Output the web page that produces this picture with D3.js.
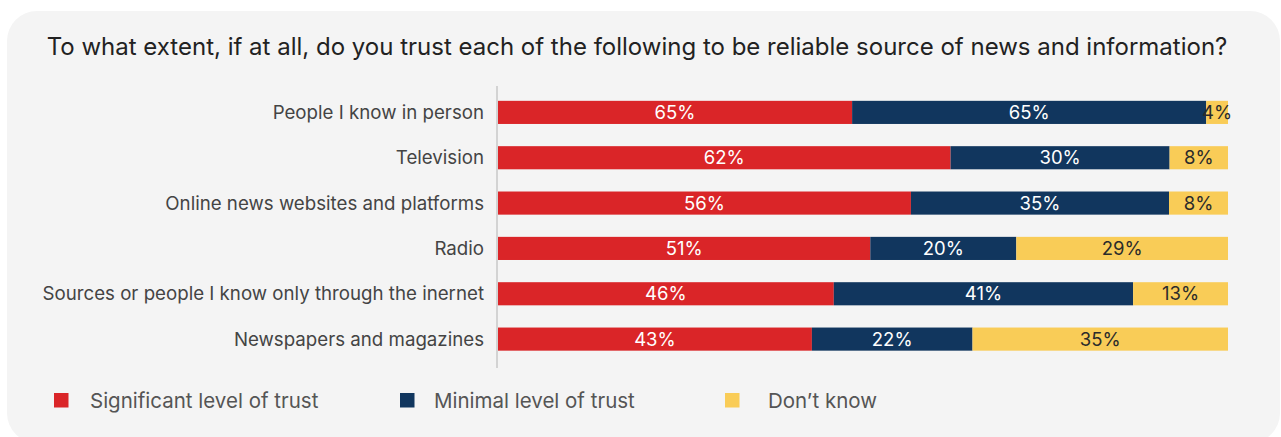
<!DOCTYPE html>
<html>
<head>
<meta charset="utf-8">
<script src="https://cdn.jsdelivr.net/npm/d3@7/dist/d3.min.js"></script>
<style>
  html, body { margin: 0; padding: 0; background: #ffffff; }
  svg { display: block; font-family: Inter, "Noto Sans", sans-serif; }
</style>
</head>
<body>
<svg id="chart" width="1281" height="437"></svg>
<script>
// Survey categories, top to bottom
const categories = [
  "People I know in person",
  "Television",
  "Online news websites and platforms",
  "Radio",
  "Sources or people I know only through the inernet",
  "Newspapers and magazines"
];

// Share of respondents per answer (percent)
const significant = [65, 62, 56, 51, 46, 43];
const minimal     = [65, 30, 35, 20, 41, 22];
const dontKnow    = [4, 8, 8, 29, 13, 35];

const seriesNames = ["Significant level of trust", "Minimal level of trust", "Don’t know"];
const seriesKeys  = ["significant", "minimal", "dontKnow"];
const colors      = ["#da2528", "#11365e", "#f9cc57"];
const labelColors = ["#ffffff", "#ffffff", "#2b2b2b"];

const rows = categories.map((c, i) => ({
  category: c,
  significant: significant[i],
  minimal: minimal[i],
  dontKnow: dontKnow[i]
}));

const svg = d3.select("#chart");

// Card background
svg.append("rect")
  .attr("x", 7).attr("y", 11)
  .attr("width", 1273).attr("height", 432)
  .attr("rx", 30).attr("ry", 30)
  .attr("fill", "#f4f4f4");

// Title
svg.append("text")
  .attr("x", 637).attr("y", 55)
  .attr("text-anchor", "middle")
  .attr("font-size", 24)
  .attr("fill", "#222222")
  .text("To what extent, if at all, do you trust each of the following to be reliable source of news and information?");

const left = 498, right = 1228;
const x = d3.scaleLinear().domain([0, 1]).range([left, right]);
const y = d3.scaleBand().domain(categories).range([89.5, 362]).paddingInner(0.49).paddingOuter(0.25);

// Each bar shows the answers as shares of the row total
const stack = d3.stack().keys(seriesKeys).offset(d3.stackOffsetExpand);
const stacked = stack(rows);

// Category axis line
svg.append("line")
  .attr("x1", 497).attr("x2", 497)
  .attr("y1", 86).attr("y2", 368)
  .attr("stroke", "#d3d3d3").attr("stroke-width", 2);

const layers = svg.append("g").selectAll("g")
  .data(stacked)
  .join("g")
  .attr("fill", (d, i) => colors[i]);

layers.selectAll("rect")
  .data(d => d)
  .join("rect")
  .attr("x", d => x(d[0]))
  .attr("y", d => y(d.data.category))
  .attr("width", d => x(d[1]) - x(d[0]))
  .attr("height", y.bandwidth());

// Value labels centred in each segment
svg.append("g").selectAll("g")
  .data(stacked)
  .join("g")
  .attr("fill", (d, i) => labelColors[i])
  .selectAll("text")
  .data(d => d.map(s => ({ s, key: d.key })))
  .join("text")
  .attr("x", d => (x(d.s[0]) + x(d.s[1])) / 2)
  .attr("y", d => y(d.s.data.category) + y.bandwidth() / 2)
  .attr("dy", "0.36em")
  .attr("text-anchor", "middle")
  .attr("font-size", 18.5)
  .text(d => d.s.data[d.key] + "%");

// Category labels
svg.append("g").selectAll("text")
  .data(categories)
  .join("text")
  .attr("x", 484)
  .attr("y", d => y(d) + y.bandwidth() / 2)
  .attr("dy", "0.36em")
  .attr("text-anchor", "end")
  .attr("font-size", 18.7)
  .attr("fill", "#444444")
  .text(d => d);

// Legend
const legendX = [54, 400, 725];
const legend = svg.append("g").selectAll("g")
  .data(seriesNames)
  .join("g")
  .attr("transform", (d, i) => `translate(${legendX[i]},393)`);

legend.append("rect")
  .attr("width", 14.5).attr("height", 14.5)
  .attr("fill", (d, i) => colors[i]);

legend.append("text")
  .attr("x", (d, i) => [36, 34, 43][i])
  .attr("y", 7.5)
  .attr("dy", "0.36em")
  .attr("font-size", 20.5)
  .attr("fill", "#555555")
  .text(d => d);
</script>
</body>
</html>
